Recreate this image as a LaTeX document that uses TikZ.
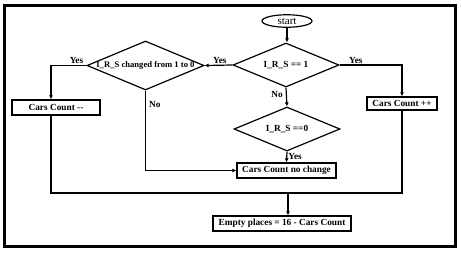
\documentclass[tikz,border=0pt]{standalone}
\usepackage{fontspec}
\setmainfont{Liberation Serif}
\usetikzlibrary{positioning,shapes,calc}
\usetikzlibrary{arrows.meta}

\begin{document}
\begin{tikzpicture}[x=1pt,y=-1pt,
	txt/.style={font=\bfseries\fontsize{9.3}{10}\selectfont},
	box/.style={txt,draw,line width=1.2pt,inner sep=0pt},
	cond/.style={txt,draw,diamond,line width=1.2pt,inner sep=0pt},
	lab/.style={txt,inner sep=1pt},
	arr/.style={-{Latex[length=4pt,width=4pt]}}]
			\useasboundingbox (0,0) rectangle (461,252);
			\draw[line width=3pt] (4.5,5) rectangle (455,246.5);

			\node[draw,ellipse,line width=1.2pt,inner sep=0pt,minimum width=50pt,minimum height=12.5pt,font=\fontsize{11}{11}\selectfont] (start) at (287,21) {start};
			\node[cond,minimum width=106pt,minimum height=44pt] (d1) at (286,65) {\makebox[0pt]{I\_R\_S == 1}};
			\node[cond,minimum width=106pt,minimum height=44pt] (d2) at (287,129) {\makebox[0pt]{I\_R\_S ==0}};
			\node[cond,minimum width=117pt,minimum height=49pt,font=\bfseries\fontsize{8.6}{10}\selectfont] (d3) at (145.5,65.5) {\makebox[0pt]{I\_R\_S changed from 1 to 0}};
			\node[box,minimum width=70pt,minimum height=13pt] (inc) at (402,103.5) {Cars Count ++};
			\node[box,minimum width=88pt,minimum height=15pt] (dec) at (56,107.5) {Cars Count {-}{-}};
			\node[box,minimum width=99pt,minimum height=15pt] (same) at (286.5,170.5) {Cars Count no change};
			\node[box,minimum width=138pt,minimum height=15pt] (empty) at (282,223.5) {Empty places = 16 - Cars Count};
			\coordinate (join) at (288,193);

			\begin{scope}[line width=1.2pt]
			\draw[arr] (start) -- (start |- d1.north);
			\draw[arr] (d1.east) -| node[lab,above,pos=0.13] {Yes} (inc.north);
			\draw[arr] (d1.west) -- node[lab,above,pos=0.45] {Yes} (d3.east);
			\draw[arr] (d1.south) -- node[lab,left,pos=0.35,xshift=-2pt] {No} (d2.north);
			\draw[arr] (d2.south) -- node[lab,right,pos=0.42] {Yes} (same.north);
			\draw[arr] (d3.west) -| node[lab,above,pos=0.14] {Yes} ([xshift=-5pt]dec.north);
			\draw[arr] (d3.south) |- node[lab,right,pos=0.09,xshift=2pt] {No} (same.west);
			\draw ([xshift=-5pt]dec.south) |- (join) -| (inc.south);
			\draw[arr] (join) -- (join |- empty.north);
			\end{scope}
\end{tikzpicture}
\end{document}
